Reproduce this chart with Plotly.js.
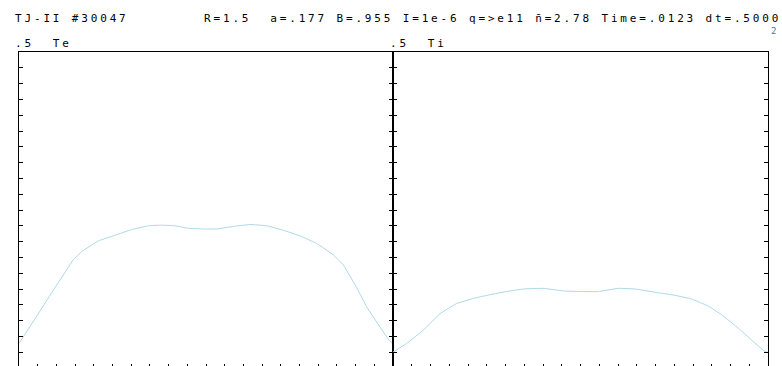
<!DOCTYPE html>
<html>
<head>
<meta charset="utf-8">
<script src="https://cdn.plot.ly/plotly-3.0.1.min.js"></script>
<style>
  html, body { margin: 0; padding: 0; background: #fff; }
  #chart { width: 782px; height: 366px; }
  .annotation-text { letter-spacing: 2.84px; }
</style>
</head>
<body>
<div id="chart"></div>
<script>
// Normalised radius and profile values
const teRho = [-1, -0.914, -0.843, -0.790, -0.710, -0.665, -0.576, -0.487, -0.397, -0.309, -0.237, -0.166, -0.095, -0.014, 0.057, 0.146, 0.235, 0.325, 0.413, 0.503, 0.592, 0.681, 0.734, 0.806, 0.859, 0.930, 0.984, 1.0];
const teVal = [0.039, 0.078, 0.111, 0.135, 0.171, 0.184, 0.201, 0.210, 0.219, 0.225, 0.226, 0.225, 0.221, 0.220, 0.220, 0.224, 0.227, 0.225, 0.218, 0.209, 0.197, 0.179, 0.163, 0.127, 0.097, 0.065, 0.042, 0.040];
const tiRho = [-1, -0.927, -0.838, -0.749, -0.660, -0.572, -0.483, -0.394, -0.305, -0.198, -0.092, -0.003, 0.095, 0.202, 0.291, 0.415, 0.504, 0.593, 0.682, 0.753, 0.842, 0.913, 0.984, 1.0];
const tiVal = [0.025, 0.039, 0.060, 0.086, 0.102, 0.110, 0.116, 0.121, 0.125, 0.126, 0.122, 0.121, 0.121, 0.126, 0.125, 0.119, 0.115, 0.109, 0.098, 0.084, 0.063, 0.044, 0.026, 0.025];

const headerLeft = "TJ-II #30047";
const headerRight = "R=1.5  a=.177 B=.955 I=1e-6 q=>e11 n\u0304=2.78 Time=.0123 dt=.5000";
const panelLabels = [".5  Te", ".5  Ti"];
const yMax = 0.5;

const W = 782, H = 366, T = 52;
const plotH = H - T;
const pxPerUnit = 316 / yMax;
const yMin = yMax - plotH / pxPerUnit;

const lineStyle = {color: '#add8e6', width: 1, shape: 'spline', smoothing: 0.3};

const traces = [
  {x: teRho, y: teVal, type: 'scatter', mode: 'lines', line: lineStyle, xaxis: 'x', yaxis: 'y', hoverinfo: 'skip'},
  {x: tiRho, y: tiVal, type: 'scatter', mode: 'lines', line: lineStyle, xaxis: 'x2', yaxis: 'y2', hoverinfo: 'skip'}
];

function xAx(domain) {
  return {
    domain: domain, range: [-1, 1], tick0: -1, dtick: 0.1,
    ticks: 'inside', ticklen: 2, tickwidth: 1, tickcolor: '#000',
    showticklabels: false, showgrid: false, zeroline: false,
    showline: true, linecolor: '#000', linewidth: 1, mirror: true, fixedrange: true
  };
}
function yAx(anchor) {
  return {
    anchor: anchor, domain: [0, 1], range: [yMin, yMax], tick0: 0, dtick: 0.025,
    ticks: 'inside', ticklen: 4, tickwidth: 1, tickcolor: '#000',
    showticklabels: false, showgrid: false, zeroline: false,
    showline: true, linecolor: '#000', linewidth: 1, mirror: 'ticks', fixedrange: true
  };
}

function px2paperX(px) { return px / W; }
function px2paperY(py) { return 1 + (T - py) / plotH; }

const font = {family: 'DejaVu Sans Mono', size: 11, color: '#000'};
function ann(text, px, py, f) {
  return {text: text, xref: 'paper', yref: 'paper', x: px2paperX(px), y: px2paperY(py),
          xanchor: 'left', yanchor: 'middle', showarrow: false, font: f || font};
}

const layout = {
  width: W, height: H,
  margin: {l: 0, r: 0, t: T, b: 0, pad: 0},
  paper_bgcolor: '#fff', plot_bgcolor: '#fff',
  showlegend: false,
  xaxis: xAx([19 / W, 393 / W]),
  yaxis: yAx('x'),
  xaxis2: Object.assign(xAx([393 / W, 768 / W]), {anchor: 'y2'}),
  yaxis2: yAx('x2'),
  annotations: [
    ann(headerLeft, 13, 18.5),
    ann(headerRight, 202, 18.5),
    ann(panelLabels[0], 13, 43.5),
    ann(panelLabels[1], 388, 43.5),
    ann('2', 769, 31, {family: 'DejaVu Sans Mono', size: 9, color: '#3b6fe0'})
  ]
};

Plotly.newPlot('chart', traces, layout, {staticPlot: true, displayModeBar: false});
</script>
</body>
</html>
